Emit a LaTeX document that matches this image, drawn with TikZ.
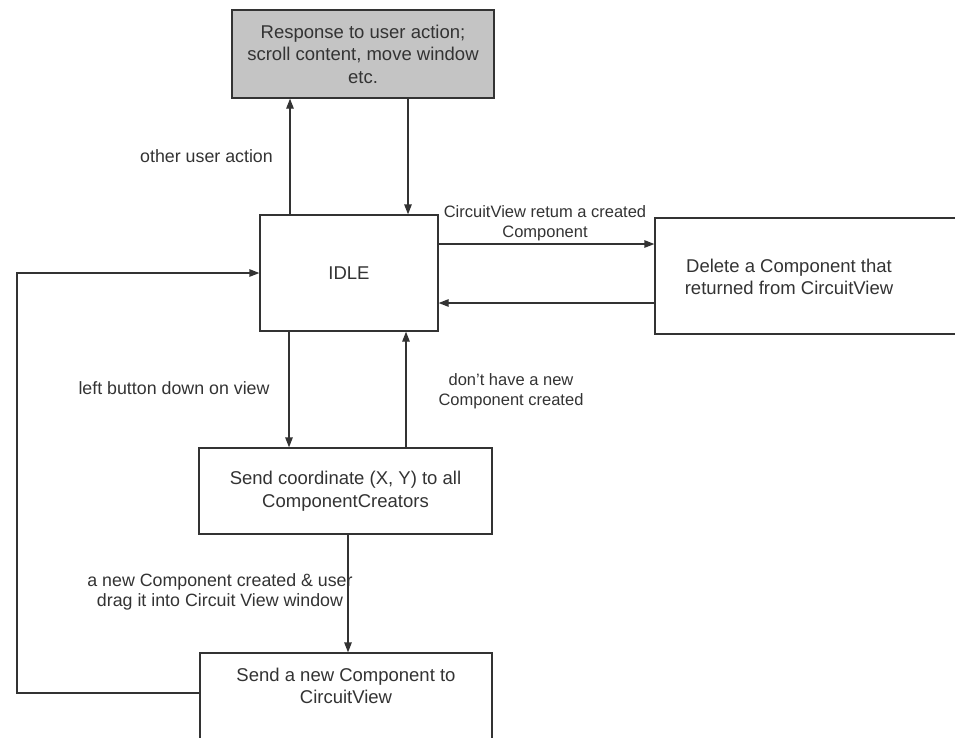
\documentclass[tikz,border=0pt]{standalone}
\usepackage{fontspec}
\setmainfont{Liberation Sans}
\usetikzlibrary{arrows.meta}
\definecolor{ink}{HTML}{333333}
\definecolor{shade}{HTML}{C4C4C4}
\newcommand{\boxtextfont}{\fontsize{18.5}{22.5}\selectfont}
\newcommand{\lbltextfont}{\fontsize{16.5}{19.5}\selectfont}
\newcommand{\widelblfont}{\fontsize{17.8}{19.5}\selectfont}
\begin{document}
\begin{tikzpicture}[x=1pt,y=-1pt,
  state/.style={draw=ink, line width=1.3pt, fill=white, inner sep=0pt,
    align=center, font=\boxtextfont, text=ink},
  lbl/.style={inner sep=0pt, align=center, font=\lbltextfont, text=ink},
  widelbl/.style={lbl, font=\widelblfont},
  arr/.style={draw=ink, line width=1.3pt, -{Triangle[length=10pt,width=7.5pt]}},
  link/.style={draw=ink, line width=1.3pt}]
\useasboundingbox (0,0) rectangle (955,737);

% states
\node[state, fill=shade, minimum width=262pt, minimum height=88pt] (resp) at (363,54)
  {Response to user action;\\scroll content, move window\\etc.};
\node[state, minimum width=178pt, minimum height=116pt] (idle) at (349,273) {IDLE};
\node[state, minimum width=310pt, minimum height=116pt] (del) at (810,276) {};
\node[lbl, font=\boxtextfont] (deltext) at (789,277)
  {Delete a Component that\\returned from CircuitView};
\node[state, minimum width=293pt, minimum height=86pt] (sendc) at (345.5,491)
  {Send coordinate (X, Y) to all\\ComponentCreators};
\node[state, minimum width=292pt, minimum height=92pt] (newc) at (346,699)
  {Send a new Component to\\CircuitView\\[4pt]};

% connector columns and rows
\coordinate (xa) at (290,0);
\coordinate (xb) at (408,0);
\coordinate (xc) at (289,0);
\coordinate (xd) at (406,0);
\coordinate (xe) at (348,0);
\coordinate (ya) at (0,244);
\coordinate (yb) at (0,303);
\coordinate (yc) at (0,693);
\coordinate (loopx) at (17,0);

% transitions
\draw[arr] (idle.north -| xa) -- (resp.south -| xa);
\draw[arr] (resp.south -| xb) -- (idle.north -| xb);
\draw[arr] (idle.east |- ya) -- (del.west |- ya);
\draw[arr] (del.west |- yb) -- (idle.east |- yb);
\draw[arr] (idle.south -| xc) -- (sendc.north -| xc);
\draw[arr] (sendc.north -| xd) -- (idle.south -| xd);
\draw[arr] (sendc.south -| xe) -- (newc.north -| xe);
\draw[arr] (newc.west |- yc) -- (loopx |- yc) -- (loopx |- idle.west) -- (idle.west);

% transition labels
\node[widelbl, anchor=east] (l1) at (273,156) {other user action};
\node[lbl] (l2) at (545,223) {CircuitView retum a created\\Component};
\node[widelbl] (l3) at (174,388) {left button down on view};
\node[lbl] (l4) at (511,391) {don't have a new\\Component created};
\node[widelbl] (l5) at (220,592) {a new Component created \& user\\drag it into Circuit View window};
\end{tikzpicture}
\end{document}
